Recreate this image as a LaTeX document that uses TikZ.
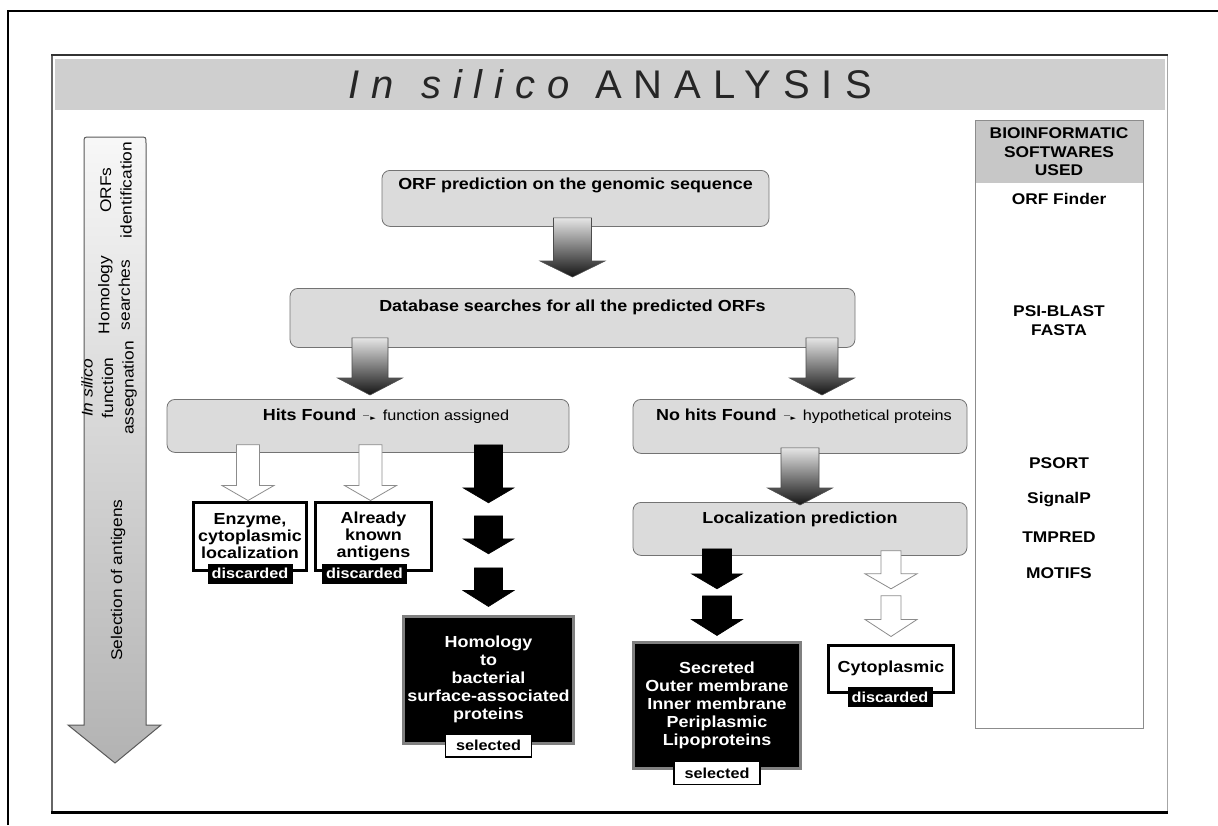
\documentclass[tikz,border=0pt]{standalone}
\usepackage{fontspec}
\setmainfont{Liberation Sans}[FakeStretch=1.12]
\newfontfamily\titlefont{Liberation Sans}[LetterSpace=30]
\newfontfamily\symfont{DejaVu Sans}
\usetikzlibrary{calc}

% font sizes
\newcommand\bxfont{\fontsize{16}{17}\selectfont\bfseries}
\newcommand\bxfontwide{\fontsize{16}{18}\selectfont\bfseries}
\newcommand\rgfont{\fontsize{14.5}{16}\selectfont\mdseries}
\newcommand\tabfont{\fontsize{14.5}{15}\selectfont\bfseries}
\newcommand\sidefont{\fontsize{15.5}{20.5}\selectfont}
\newcommand\swfont{\fontsize{15.5}{18.5}\selectfont\bfseries}
% small dashed pointer used inside the result boxes
\newcommand\smallarr{\hspace{7pt}{\color{black!55}\rule[4.5pt]{6pt}{1.2pt}}\hspace{1pt}{\symfont\fontsize{7}{7}\selectfont ►}\hspace{7pt}}

% block arrow: style, top point, tip point, shaft half width, head half width, head length
\newcommand\blockarrow[6]{%
  \path[#1] let \p1=#2, \p2=#3 in
    (\x2-#4pt,\y1) -- (\x2-#4pt,\y2+#6pt) -- (\x2-#5pt,\y2+#6pt) -- (\x2,\y2)
    -- (\x2+#5pt,\y2+#6pt) -- (\x2+#4pt,\y2+#6pt) -- (\x2+#4pt,\y1) -- cycle;}

\tikzset{
  graybox/.style={draw=black!55, fill=black!14, rounded corners=8pt, line width=0.8pt,
    inner sep=0pt, font=\bxfont},
  whitebox/.style={draw=black, line width=3pt, fill=white, inner sep=0pt, align=center, font=\bxfont},
  blackbox/.style={draw=black!50, line width=3pt, fill=black, text=white, inner sep=0pt,
    align=center, font=\bxfontwide},
  distab/.style={fill=black, text=white, inner sep=0pt, minimum width=85, minimum height=20, font=\tabfont},
  seltab/.style={fill=white, draw=black, line width=1.5pt, inner sep=0pt, minimum width=86,
    minimum height=23, font=\tabfont},
  swtext/.style={font=\swfont, align=center, inner sep=0pt},
  sidetext/.style={font=\sidefont, align=center, inner sep=0pt, rotate=90, text=black},
  gradarrow/.style={top color=black!10, bottom color=black!92, draw=black!70, line width=0.6pt},
  blackarrow/.style={fill=black, draw=black, line width=0.6pt},
  whitearrow/.style={fill=white, draw=black!45, line width=0.8pt},
  bigarrow/.style={top color=black!3, bottom color=black!30, draw=black!65, line width=1pt}
}

\begin{document}
\begin{tikzpicture}[x=1pt, y=-1pt]
\useasboundingbox (0,0) rectangle (1218,825);
\fill[white] (0,0) rectangle (1218,825);

% outer frame
\draw[line width=2.5pt] (8,825) -- (8,11) -- (1218,11);

% title band and panel
\node[fill=black!19, minimum width=1110, minimum height=51, anchor=north west, inner sep=0pt,
  text=black!85] (band) at (55,59)
  {\titlefont\fontsize{40}{46}\selectfont\itshape In\hspace{4pt} silico\hspace{2pt} \upshape ANALYSIS};
\draw[black!60, line width=1.8pt] (52,55) -- (52,812);
\draw[black!35, line width=1pt] (1167,55) -- (1167,812);
\draw[line width=3pt] (51,812) -- (1168,812);
\draw[black!80, line width=2pt] (51,55) -- (1168,55);

% stage arrow on the left
\path[bigarrow] (84,725) -- (84,143) .. controls (84,137) .. (90,137) -- (140,137)
  .. controls (146,137) .. (146,143) -- (146,725) -- (161,725) -- (115,763) -- (68,725) -- cycle;
\node[sidetext] (st1) at (116,190) {ORFs\\identification};
\node[sidetext] (st2) at (114,295) {Homology\\searches};
\node[sidetext] (st3) at (109,388) {\textit{In silico}\\function\\assegnation};
\node[sidetext] (st4) at (118,580) {Selection of antigens};

% software column
\node[draw=black!45, line width=1pt, fill=white, minimum width=168, minimum height=608,
  anchor=north, inner sep=0pt] (sw) at (1059,120) {};
\node[fill=black!22, minimum width=167, minimum height=62, anchor=north, inner sep=0pt,
  align=center, font=\swfont] (swhead) at ($(sw.north)+(0,0.5)$) {BIOINFORMATIC\\SOFTWARES\\USED};
\node[swtext] (s1) at (1059,199) {ORF Finder};
\node[swtext] (s2) at (1059,320.5) {PSI-BLAST\\FASTA};
\node[swtext] (s3) at (1059,463) {PSORT};
\node[swtext] (s4) at (1059,500) {SignalP};
\node[swtext] (s5) at (1059,537) {TMPRED};
\node[swtext] (s6) at (1059,573) {MOTIFS};

% process boxes
\node[graybox, minimum width=387, text height=19pt, text depth=37pt, anchor=north] (orf)
  at (575.5,170) {ORF prediction on the genomic sequence};
\node[graybox, minimum width=565, text height=23pt, text depth=36pt, anchor=north] (db)
  at (572.5,288) {Database searches for all the predicted ORFs};
\node[graybox, minimum width=402, text height=21pt, text depth=32pt, anchor=north] (hits)
  at (368,399) {\hspace*{36pt}Hits Found\smallarr{\rgfont function assigned}};
\node[graybox, minimum width=334, text height=21pt, text depth=33pt, anchor=north] (nohits)
  at (800,399) {\hspace*{8pt}No hits Found\smallarr{\rgfont hypothetical proteins}};
\node[graybox, minimum width=334, text height=21pt, text depth=32pt, anchor=north] (loc)
  at (800,502) {Localization prediction};

% outcome boxes
\node[whitebox, minimum width=113, minimum height=68, anchor=north] (enz) at (250,500.5)
  {Enzyme,\\cytoplasmic\\localization};
\node[whitebox, minimum width=116, minimum height=68, anchor=north] (known) at (373.5,500.5)
  {Already\\known\\antigens};
\node[blackbox, minimum width=170, minimum height=127, anchor=north] (homol) at (488.5,614.5)
  {Homology\\to\\bacterial\\surface-associated\\proteins};
\node[blackbox, minimum width=167, minimum height=126, anchor=north] (secr) at (717,640.5)
  {Secreted\\Outer membrane\\Inner membrane\\Periplasmic\\Lipoproteins};
\node[whitebox, minimum width=125, minimum height=47, anchor=north] (cyto) at (891,643.5)
  {Cytoplasmic};

% verdict tabs
\node[distab] (enzd) at ($(enz.south)+(0,2)$) {discarded};
\node[distab] (knownd) at ($(known.south)+(-9,2)$) {discarded};
\node[distab] (cytod) at ($(cyto.south)+(-1,3.5)$) {discarded};
\node[seltab] (homols) at ($(homol.south)+(0,1)$) {selected};
\node[seltab] (secrs) at ($(secr.south)+(0,3.5)$) {selected};

% arrows between steps
\blockarrow{gradarrow}{($(orf.south)+(0,-9)$)}{($(db.north)+(0,-11)$)}{19}{32.5}{16}
\blockarrow{gradarrow}{($(hits.north |- db.south)+(2,-10)$)}{($(hits.north)+(2,-4)$)}{18}{32.5}{17}
\blockarrow{gradarrow}{($(nohits.north |- db.south)+(22,-10)$)}{($(nohits.north)+(22,-4)$)}{16}{32.5}{17}
\blockarrow{gradarrow}{($(nohits.south)+(0,-6)$)}{($(loc.north)+(0,3)$)}{19}{32.5}{17}

% hits: discarded branches
\blockarrow{whitearrow}{($(enz.north |- hits.south)+(-2,-8)$)}{($(enz.north)+(-2,0)$)}{11.5}{26}{15}
\blockarrow{whitearrow}{($(known.north |- hits.south)+(-3,-8)$)}{($(known.north)+(-3,0)$)}{11.5}{26}{15}

% hits: selected branch
\coordinate (hc) at (homol.north |- hits.south);
\blockarrow{blackarrow}{($(hc)+(0,-8)$)}{($(hc)+(0,50)$)}{14}{25.5}{15}
\blockarrow{blackarrow}{($(hc)+(0,63)$)}{($(hc)+(0,101)$)}{14}{25.5}{15}
\blockarrow{blackarrow}{($(hc)+(0,115)$)}{($(homol.north)+(0,-8)$)}{14}{25.5}{16}

% localization branches
\coordinate (lc) at (secr.north |- loc.south);
\blockarrow{blackarrow}{($(lc)+(0,-7)$)}{($(lc)+(0,33)$)}{14.5}{25.5}{15}
\blockarrow{blackarrow}{($(lc)+(0,40)$)}{($(secr.north)+(0,-5)$)}{14.5}{25.5}{16}
\coordinate (cc) at (cyto.north |- loc.south);
\blockarrow{whitearrow}{($(cc)+(0,-5)$)}{($(cc)+(0,33)$)}{10}{26}{15}
\blockarrow{whitearrow}{($(cc)+(0,40)$)}{($(cyto.north)+(0,-7)$)}{10}{26}{17}
\end{tikzpicture}
\end{document}
